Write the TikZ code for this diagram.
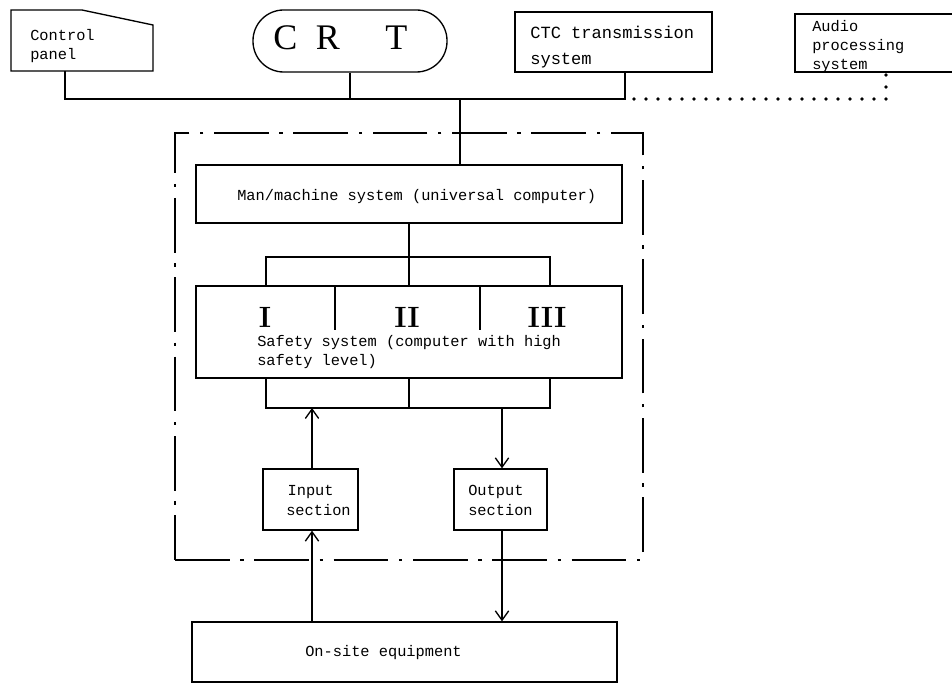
\documentclass[tikz,border=0pt]{standalone}
\usepackage{fontspec}
\setmonofont{Liberation Mono}
\newfontfamily\crtfont{Liberation Serif}
\usetikzlibrary{fit,arrows.meta}
\begin{document}
\begin{tikzpicture}[x=0.75pt,y=-0.75pt,
  box/.style={draw,line width=1pt,inner sep=0pt},
  ghost/.style={inner sep=0pt},
  txt/.style={font=\ttfamily\fontsize{11.5}{14.25}\selectfont,align=left,inner sep=0pt,anchor=west},
  wire/.style={line width=1pt},
  arr/.style={line width=1pt,-{Straight Barb[length=7pt,width=10pt]}},
  frame/.style={draw,line width=1pt,inner sep=0pt,dash pattern=on 41pt off 8pt on 2.5pt off 8pt},
  dotline/.style={line width=2.8pt,line cap=round,dash pattern=on 0pt off 9pt}]
\useasboundingbox[fill=white] (0,0) rectangle (952,684);

% top row
\draw[wire] (11,10) -- (82,10) -- (153,25) -- (153,71) -- (11,71) -- cycle;
\node[ghost,fit={(11,10)(153,71)}] (cpanel) {};
\node[txt] (cptxt) at (30,46) {Control\\panel};

\node[box,rounded corners=23pt,fit={(253,10)(447,72)}] (crt) {};
\node[anchor=west,inner sep=0pt,font=\crtfont\fontsize{27}{30}\selectfont] (crttxt) at (273,38) {C\hspace{14pt}R\hspace{34pt}T};

\node[box,fit={(515,12)(712,72)}] (ctc) {};
\node[txt,font=\ttfamily\fontsize{12.8}{19.5}\selectfont] (ctctxt) at (530,47) {CTC transmission\\system};

\draw[wire] (952,14) -- (795,14) -- (795,72) -- (952,72);
\node[ghost,fit={(795,14)(952,72)}] (audio) {};
\node[txt] (audiotxt) at (812,47) {Audio\\processing\\system};

% bus
\coordinate (busL) at (65,99);
\coordinate (busR) at (625,99);
\coordinate (busA) at (886,99);
\coordinate (audB) at (886,72);
\coordinate (mmT) at (460,165);
\draw[wire] (cpanel.south -| busL) -- (busL) -- (busR) -- (ctc.south -| busR);
\draw[wire] (crt.south) -- (crt.south |- busL);
\draw[wire] (busL -| mmT) -- (mmT);
\draw[dotline] (busR) ++(9,0) -- (busA) -- (audB);

% frame
\node[frame,fit={(175,133)(643,560)}] (frm) {};

% man/machine
\node[box,fit={(196,165)(622,223)}] (mm) {};
\node[txt] (mmtxt) at (237,197) {Man/machine system (universal computer)};

% safety
\node[box,fit={(196,286)(622,378)}] (ss) {};
\node[txt] (sstxt) at (257,352) {Safety system (computer with high\\safety level)};
\node[inner sep=0pt,font=\bfseries\fontsize{22}{24}\selectfont] (n1) at (265,317) {I};
\node[inner sep=0pt,font=\bfseries\fontsize{22}{24}\selectfont] (n2) at (407,317) {II};
\node[inner sep=0pt,font=\bfseries\fontsize{22}{24}\selectfont] (n3) at (547,317) {III};
\coordinate (d1) at (335,330);
\coordinate (d2) at (480,330);
\draw[wire] (ss.north -| d1) -- (d1);
\draw[wire] (ss.north -| d2) -- (d2);

\coordinate (tL) at (266,257);
\coordinate (tR) at (550,257);
\draw[wire] (mm.south) -- (ss.north);
\draw[wire] (ss.north -| tL) -- (tL) -- (tR) -- (ss.north -| tR);

\coordinate (bL) at (266,408);
\coordinate (bR) at (550,408);
\draw[wire] (ss.south -| bL) -- (bL) -- (bR) -- (ss.south -| bR);
\draw[wire] (ss.south) -- (ss.south |- bL);

% input/output
\node[box,fit={(263,469)(358,530)}] (inp) {};
\node[txt,font=\ttfamily\fontsize{11.5}{15}\selectfont] (inptxt) at (286,500) {\hspace*{1pt}Input\\section};
\node[box,fit={(454,469)(547,530)}] (outp) {};
\node[txt,font=\ttfamily\fontsize{11.5}{15}\selectfont] (outtxt) at (468,500) {Output\\section};

\coordinate (inX) at (312,0);
\coordinate (outX) at (502,0);
\draw[arr] (inp.north -| inX) -- (bL -| inX);
\draw[arr] (bL -| outX) -- (outp.north -| outX);

% on-site
\node[box,fit={(192,622)(617,682)}] (site) {};
\node[txt] (sitetxt) at (305,653) {On-site equipment};
\draw[arr] (site.north -| inX) -- (inp.south -| inX);
\draw[arr] (outp.south -| outX) -- (site.north -| outX);
\end{tikzpicture}
\end{document}
